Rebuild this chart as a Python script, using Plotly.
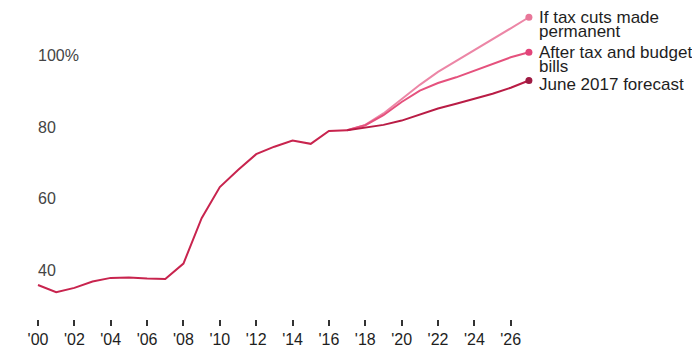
import plotly.graph_objects as go

hist_years = list(range(2000, 2018))
hist_vals = [35.8, 33.8, 35.0, 36.8, 37.8, 37.9, 37.6, 37.5, 41.8, 54.5, 63.2, 68.0, 72.4, 74.5, 76.2, 75.3, 78.9, 79.1]

proj_years = list(range(2017, 2028))
forecast_vals = [79.1, 79.8, 80.6, 81.8, 83.6, 85.2, 86.5, 87.9, 89.3, 91.0, 93.0]
bills_vals = [79.1, 80.5, 83.3, 87.0, 90.2, 92.3, 93.9, 95.8, 97.8, 99.5, 100.9]
cuts_vals = [79.1, 80.6, 83.8, 87.8, 91.8, 95.4, 98.4, 101.5, 104.6, 107.6, 110.7]

tick_years = list(range(2000, 2027, 2))
tick_text = ["'%02d" % (y % 100) for y in tick_years]
y_ticks = [40, 60, 80, 100]
y_text = ["40", "60", "80", "100%"]

series_labels = [["If tax cuts made", "permanent"], ["After tax and budget", "bills"], ["June 2017 forecast"]]
label_offsets = [0, 0, -4]

c_main = "#c8244e"
c_cuts = "#ec86a6"
c_bills = "#e5517d"
c_fore = "#b91c45"

x_range = [1999.56, 2027.5]
y_range = [26.3, 114.13]

fig = go.Figure()
fig.add_trace(go.Scatter(x=proj_years, y=cuts_vals, mode="lines", line=dict(color=c_cuts, width=2), hoverinfo="skip"))
fig.add_trace(go.Scatter(x=proj_years, y=bills_vals, mode="lines", line=dict(color=c_bills, width=2), hoverinfo="skip"))
fig.add_trace(go.Scatter(x=proj_years, y=forecast_vals, mode="lines", line=dict(color=c_fore, width=2), hoverinfo="skip"))
# historical line drawn on the overlay axes that carry the y labels
fig.add_trace(go.Scatter(x=hist_years, y=hist_vals, mode="lines", line=dict(color=c_main, width=2),
                         hoverinfo="skip", xaxis="x2", yaxis="y2"))

ends = [(cuts_vals[-1], "#e87799"), (bills_vals[-1], "#e2447a"), (forecast_vals[-1], "#9e1a42")]
fig.add_trace(go.Scatter(x=[proj_years[-1]] * 3, y=[e[0] for e in ends], mode="markers",
                         marker=dict(color=[e[1] for e in ends], size=7), hoverinfo="skip", cliponaxis=False))

annotations = []
for (val, _), lines, off in zip(ends, series_labels, label_offsets):
    for i, t in enumerate(lines):
        annotations.append(dict(x=proj_years[-1], y=val, xref="x", yref="y", text=t, showarrow=False,
                                xanchor="left", yanchor="middle", xshift=8, yshift=off - 14.5 * i,
                                font=dict(family="Liberation Sans, Arial", size=17, color="#1e1e1e")))

fig.update_layout(
    width=692, height=352,
    margin=dict(l=30, r=154, t=5, b=33),
    paper_bgcolor="white", plot_bgcolor="white",
    showlegend=False,
    annotations=annotations,
    font=dict(family="Liberation Sans, Arial", size=15, color="#1e1e1e"),
    xaxis=dict(range=x_range, tickvals=tick_years, ticktext=tick_text,
               showgrid=False, zeroline=False, showline=False,
               ticks="outside", ticklen=6, tickwidth=2, tickcolor="#333",
               tickfont=dict(size=16)),
    yaxis=dict(range=y_range, showticklabels=False,
               showgrid=False, zeroline=False, showline=False, ticks=""),
    xaxis2=dict(range=x_range, overlaying="x", anchor="y2", visible=False),
    yaxis2=dict(range=y_range, overlaying="y", anchor="x2", side="left",
                tickvals=y_ticks, ticktext=y_text,
                showgrid=False, zeroline=False, showline=False, ticks="",
                ticklabelposition="inside", ticklabelstandoff=5, tickfont=dict(size=16)),
)

fig.write_html("out.html", config={"displayModeBar": False},
               post_script="document.body.style.margin='0';")
